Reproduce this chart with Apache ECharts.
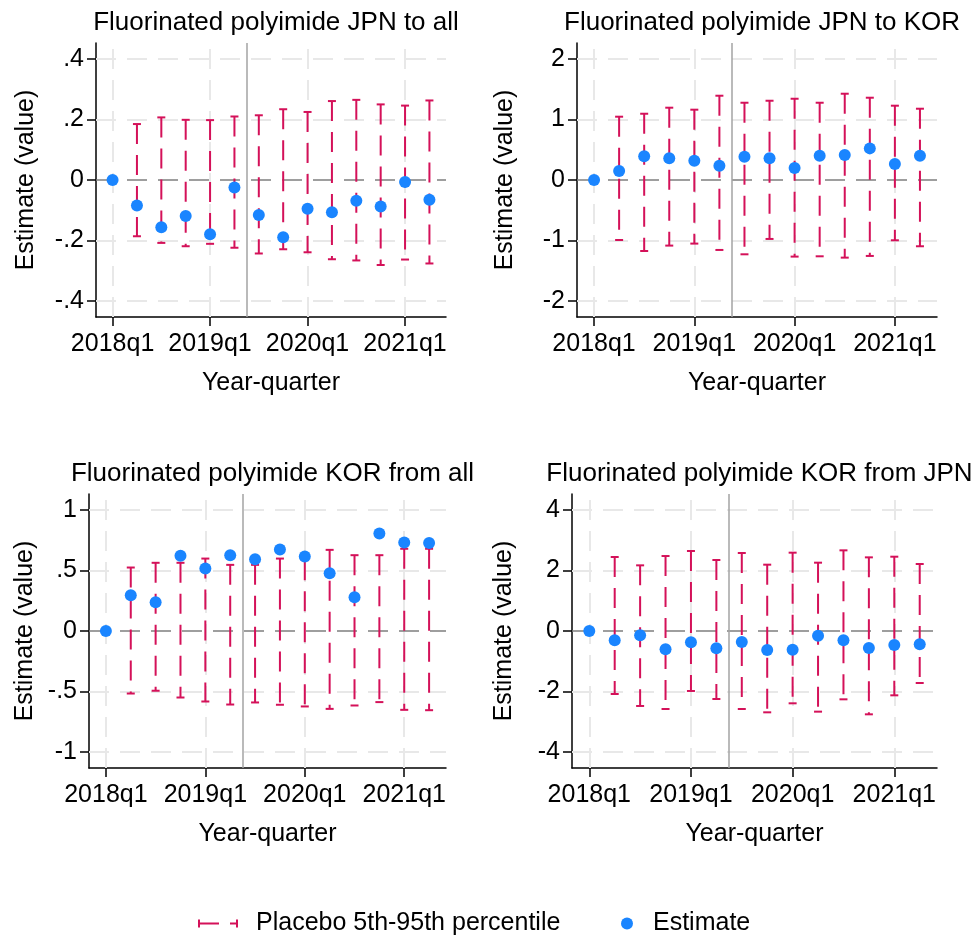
<!DOCTYPE html>
<html>
<head>
<meta charset="utf-8">
<script src="https://cdn.jsdelivr.net/npm/echarts@6/dist/echarts.min.js"></script>
<style>
  html, body { margin: 0; padding: 0; background: #ffffff; }
  #chart { width: 980px; height: 937px; }
</style>
</head>
<body>
<div id="chart"></div>
<script>
// Quarter index 0 = 2018q1 ... 13 = 2021q2
const quarterIdx = [0, 1, 2, 3, 4, 5, 6, 7, 8, 9, 10, 11, 12, 13];
const xTickValues = [0, 4, 8, 12];
const xTickLabels = ['2018q1', '2019q1', '2020q1', '2021q1'];
const treatmentLine = 5.5;

const panelTitles = [
  'Fluorinated polyimide JPN to all',
  'Fluorinated polyimide JPN to KOR',
  'Fluorinated polyimide KOR from all',
  'Fluorinated polyimide KOR from JPN'
];

// y-axis ticks per panel
const yTicks1 = [-0.4, -0.2, 0, 0.2, 0.4];
const yTicks2 = [-2, -1, 0, 1, 2];
const yTicks3 = [-1, -0.5, 0, 0.5, 1];
const yTicks4 = [-4, -2, 0, 2, 4];

// Panel 1: JPN to all
const est1 = [0, -0.084, -0.156, -0.119, -0.179, -0.025, -0.116, -0.189, -0.095, -0.107, -0.069, -0.088, -0.007, -0.065];
const hi1  = [null, 0.185, 0.207, 0.199, 0.198, 0.210, 0.214, 0.234, 0.225, 0.261, 0.265, 0.250, 0.246, 0.263];
const lo1  = [null, -0.186, -0.208, -0.219, -0.211, -0.224, -0.243, -0.229, -0.239, -0.262, -0.266, -0.281, -0.263, -0.276];

// Panel 2: JPN to KOR
const est2 = [0, 0.149, 0.391, 0.358, 0.320, 0.237, 0.386, 0.358, 0.198, 0.402, 0.413, 0.523, 0.264, 0.402];
const hi2  = [null, 1.047, 1.096, 1.196, 1.163, 1.394, 1.278, 1.311, 1.344, 1.278, 1.427, 1.361, 1.229, 1.179];
const lo2  = [null, -0.992, -1.174, -1.085, -1.052, -1.157, -1.229, -0.975, -1.267, -1.262, -1.284, -1.256, -0.997, -1.096];

// Panel 3: KOR from all
const est3 = [0, 0.296, 0.238, 0.622, 0.517, 0.627, 0.594, 0.674, 0.616, 0.478, 0.279, 0.807, 0.732, 0.727];
const hi3  = [null, 0.525, 0.564, 0.564, 0.599, 0.547, 0.547, 0.599, 0.586, 0.671, 0.627, 0.627, 0.680, 0.680];
const lo3  = [null, -0.517, -0.494, -0.550, -0.583, -0.608, -0.591, -0.610, -0.624, -0.644, -0.616, -0.588, -0.652, -0.655];

// Panel 4: KOR from JPN
const est4 = [0, -0.309, -0.143, -0.606, -0.375, -0.573, -0.364, -0.628, -0.617, -0.154, -0.309, -0.562, -0.463, -0.441];
const hi4  = [null, 2.446, 2.171, 2.479, 2.645, 2.347, 2.579, 2.193, 2.590, 2.259, 2.667, 2.435, 2.457, 2.215];
const lo4  = [null, -2.083, -2.479, -2.579, -1.983, -2.248, -2.579, -2.689, -2.391, -2.667, -2.259, -2.755, -2.127, -1.719];

const BAR_COLOR = '#D41159';
const DOT_COLOR = '#1A85FF';
const FONT = 'Liberation Sans, Arial, Helvetica, sans-serif';

const panels = [
  { est: est1, lo: lo1, hi: hi1, ticks: yTicks1, yMax: 0.453,
    grid: { left: 96, top: 43, width: 350, height: 274 }, nameGap: 57 },
  { est: est2, lo: lo2, hi: hi2, ticks: yTicks2, yMax: 2.266,
    grid: { left: 577, top: 43, width: 360, height: 274 }, nameGap: 59 },
  { est: est3, lo: lo3, hi: hi3, ticks: yTicks3, yMax: 1.133,
    grid: { left: 89, top: 494, width: 357, height: 274 }, nameGap: 51 },
  { est: est4, lo: lo4, hi: hi4, ticks: yTicks4, yMax: 4.53,
    grid: { left: 572, top: 494, width: 365, height: 274 }, nameGap: 55 }
];

function fmtY(v) {
  const r = Math.round(v * 1000) / 1000;
  return String(r).replace(/^(-?)0\./, '$1.');
}

function renderBar(params, api) {
  const x = api.value(0);
  const lo = api.value(1);
  const hi = api.value(2);
  const top = api.coord([x, hi]);
  const bot = api.coord([x, lo]);
  const cap = 4;
  const st = { stroke: BAR_COLOR, lineWidth: 2 };
  return {
    type: 'group',
    children: [
      { type: 'line', shape: { x1: top[0], y1: top[1], x2: bot[0], y2: bot[1] },
        style: Object.assign({ lineDash: [20, 11] }, st) },
      { type: 'line', shape: { x1: top[0] - cap, y1: top[1], x2: top[0] + cap, y2: top[1] }, style: st },
      { type: 'line', shape: { x1: bot[0] - cap, y1: bot[1], x2: bot[0] + cap, y2: bot[1] }, style: st }
    ]
  };
}

const grids = [], xAxes = [], yAxes = [], series = [], titles = [];

panels.forEach((p, k) => {
  grids.push(Object.assign({ containLabel: false }, p.grid));
  titles.push({
    text: panelTitles[k],
    left: p.grid.left + p.grid.width / 2,
    top: p.grid.top - 38,
    textAlign: 'center',
    textStyle: { fontFamily: FONT, fontSize: 26, fontWeight: 'normal', color: '#000' }
  });
  xAxes.push({
    type: 'value', gridIndex: k, min: -0.68, max: 13.68,
    name: 'Year-quarter', nameLocation: 'middle', nameGap: 54,
    nameTextStyle: { fontFamily: FONT, fontSize: 25, color: '#000' },
    axisLine: { onZero: false, lineStyle: { color: '#000', width: 1.5 } },
    axisTick: { customValues: xTickValues, length: 9, lineStyle: { color: '#000', width: 1.5 } },
    axisLabel: {
      customValues: xTickValues, margin: 15,
      fontFamily: FONT, fontSize: 25, color: '#000',
      formatter: v => xTickLabels[xTickValues.indexOf(Math.round(v))] || ''
    },
    splitLine: { show: false }
  });
  yAxes.push({
    type: 'value', gridIndex: k, min: -p.yMax, max: p.yMax,
    name: 'Estimate (value)', nameLocation: 'middle', nameGap: p.nameGap,
    nameTextStyle: { fontFamily: FONT, fontSize: 25, color: '#000' },
    axisLine: { onZero: false, lineStyle: { color: '#000', width: 1.5 } },
    axisTick: { customValues: p.ticks, length: 9, lineStyle: { color: '#000', width: 1.5 } },
    axisLabel: {
      customValues: p.ticks, margin: 12,
      fontFamily: FONT, fontSize: 25, color: '#000',
      formatter: fmtY
    },
    splitLine: { show: false }
  });

  // dashed grid lines at the tick positions, plus the reference lines
  const gridStyle = { color: '#e8e8e8', width: 2, type: [20, 11] };
  const refLines = [];
  p.ticks.forEach(t => { if (t !== 0) refLines.push({ yAxis: t, lineStyle: gridStyle }); });
  xTickValues.forEach(t => refLines.push({ xAxis: t, lineStyle: gridStyle }));
  refLines.push({ yAxis: 0, lineStyle: { color: '#7f7f7f', width: 1.5, type: [20, 11] } });
  refLines.push({ xAxis: treatmentLine, lineStyle: { color: '#a3a3a3', width: 1.5, type: 'solid' } });
  series.push({
    type: 'line', xAxisIndex: k, yAxisIndex: k, data: [], silent: true, z: 1,
    markLine: { symbol: 'none', silent: true, animation: false, label: { show: false }, z: 1,
                emphasis: { disabled: true }, data: refLines }
  });

  const barData = [];
  quarterIdx.forEach((q, i) => {
    if (p.lo[i] !== null && p.hi[i] !== null) barData.push([q, p.lo[i], p.hi[i]]);
  });
  series.push({
    name: 'Placebo 5th-95th percentile', type: 'custom', xAxisIndex: k, yAxisIndex: k,
    renderItem: renderBar, data: barData, encode: { x: 0, y: [1, 2] },
    itemStyle: { color: BAR_COLOR }, z: 3, animation: false
  });
  series.push({
    name: 'Estimate', type: 'scatter', xAxisIndex: k, yAxisIndex: k,
    data: quarterIdx.map((q, i) => [q, p.est[i]]),
    symbol: 'circle', symbolSize: 12, itemStyle: { color: DOT_COLOR, opacity: 1 },
    z: 4, animation: false
  });
});

const chart = echarts.init(document.getElementById('chart'), null, { renderer: 'canvas' });
chart.setOption({
  backgroundColor: '#ffffff',
  animation: false,
  title: titles,
  grid: grids,
  xAxis: xAxes,
  yAxis: yAxes,
  legend: [
    {
      data: [{ name: 'Placebo 5th-95th percentile',
               icon: 'path://M0,0h2v8h-2z M0,3h21v2h-21z M32,3h8v2h-8z M38,0h2v8h-2z' }],
      left: 193, top: 906, itemWidth: 40, itemHeight: 8,
      itemStyle: { color: BAR_COLOR },
      textStyle: { fontFamily: FONT, fontSize: 25, color: '#000', padding: [0, 0, 0, 13] },
      selectedMode: false
    },
    {
      data: [{ name: 'Estimate', icon: 'circle' }],
      left: 616, top: 906, itemWidth: 12, itemHeight: 12,
      itemStyle: { color: DOT_COLOR },
      textStyle: { fontFamily: FONT, fontSize: 25, color: '#000', padding: [0, 0, 0, 15] },
      selectedMode: false
    }
  ],
  series: series
});
</script>
</body>
</html>
